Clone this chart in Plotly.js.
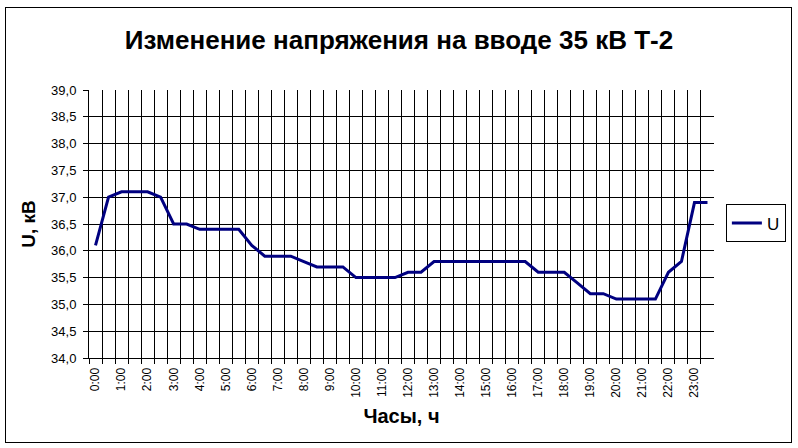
<!DOCTYPE html>
<html>
<head>
<meta charset="utf-8">
<script src="https://cdn.plot.ly/plotly-3.0.1.min.js"></script>
<style>
  html, body { margin: 0; padding: 0; background: #fff; }
  #wrap { position: relative; width: 798px; height: 448px; }
  #chart { width: 798px; height: 448px; }
  #frame { position: absolute; left: 5px; top: 7px; width: 785px; height: 434px; border: 1px solid #000; pointer-events: none; }
</style>
</head>
<body>
<div id="wrap">
  <div id="chart"></div>
  <div id="frame"></div>
</div>
<script>
// Time categories (half-hour steps)
var times = ["0:00","0:30","1:00","1:30","2:00","2:30","3:00","3:30","4:00","4:30","5:00","5:30",
             "6:00","6:30","7:00","7:30","8:00","8:30","9:00","9:30","10:00","10:30","11:00","11:30",
             "12:00","12:30","13:00","13:30","14:00","14:30","15:00","15:30","16:00","16:30","17:00","17:30",
             "18:00","18:30","19:00","19:30","20:00","20:30","21:00","21:30","22:00","22:30","23:00","23:30"];
// Voltage U, kV
var voltage = [36.1, 37.0, 37.1, 37.1, 37.1, 37.0, 36.5, 36.5, 36.4, 36.4, 36.4, 36.4,
               36.1, 35.9, 35.9, 35.9, 35.8, 35.7, 35.7, 35.7, 35.5, 35.5, 35.5, 35.5,
               35.6, 35.6, 35.8, 35.8, 35.8, 35.8, 35.8, 35.8, 35.8, 35.8, 35.6, 35.6,
               35.6, 35.4, 35.2, 35.2, 35.1, 35.1, 35.1, 35.1, 35.6, 35.8, 36.9, 36.9];
// Y axis ticks
var yTickVals = [34.0, 34.5, 35.0, 35.5, 36.0, 36.5, 37.0, 37.5, 38.0, 38.5, 39.0];
var yTickText = ["34,0","34,5","35,0","35,5","36,0","36,5","37,0","37,5","38,0","38,5","39,0"];
var yGridVals = [34.5, 35.0, 35.5, 36.0, 36.5, 37.0, 37.5, 38.0, 38.5];

var seriesName = "U";
var titleText = "Изменение напряжения на вводе 35 кВ Т-2";
var xTitle = "Часы, ч";
var yTitle = "U, кВ";

var xIdx = times.map(function (t, i) { return i; });
var xLabelIdx = xIdx.filter(function (i) { return times[i].slice(-3) === ":00"; });
var xLabelText = xLabelIdx.map(function (i) { return times[i]; });
var xBoundaries = xIdx.map(function (i) { return i - 0.5; });

var font = "'Liberation Sans', Arial, sans-serif";

var trace = {
  x: xIdx,
  y: voltage,
  type: "scatter",
  mode: "lines",
  name: seriesName,
  line: { color: "#000080", width: 3 },
  showlegend: true
};
// empty helper trace so the grid-only overlay axis is drawn (no marks)
var gridHelper = {
  x: [], y: [], type: "scatter", mode: "lines",
  yaxis: "y2", showlegend: false, hoverinfo: "skip"
};

var layout = {
  width: 798, height: 448,
  margin: { l: 89, r: 80, t: 90, b: 90 },
  paper_bgcolor: "#fff",
  plot_bgcolor: "#fff",
  font: { family: font, color: "#000", size: 12 },
  title: {
    text: titleText,
    font: { family: font, size: 26, weight: 700, color: "#000" },
    x: 0.5, xref: "container", xanchor: "center",
    y: 0.91, yref: "container", yanchor: "middle"
  },
  xaxis: {
    range: [-0.5, times.length - 0.5],
    tickmode: "array",
    tickvals: xLabelIdx,
    ticktext: xLabelText,
    tickangle: -90,
    ticks: "",
    showgrid: false,
    zeroline: false,
    showline: true, linecolor: "#000", linewidth: 1,
    tickfont: { family: font, size: 12, color: "#000" },
    ticklabelstandoff: 4,
    minor: {
      tickmode: "array",
      tickvals: xBoundaries,
      ticks: "outside", ticklen: 5, tickcolor: "#000", tickwidth: 1,
      showgrid: true, gridcolor: "#000", gridwidth: 1
    },
    title: { text: xTitle, font: { family: font, size: 20, weight: 700, color: "#000" }, standoff: 12 }
  },
  yaxis: {
    range: [34, 39],
    tickmode: "array",
    tickvals: yTickVals,
    ticktext: yTickText,
    ticks: "outside", ticklen: 5, tickcolor: "#000",
    ticklabelstandoff: 4,
    showgrid: false,
    zeroline: false,
    showline: true, linecolor: "#000", linewidth: 1,
    tickfont: { family: font, size: 13, color: "#000" },
    title: { text: yTitle, font: { family: font, size: 19, weight: 700, color: "#000" }, standoff: 10 }
  },
  yaxis2: {
    overlaying: "y",
    range: [34, 39],
    tickmode: "array",
    tickvals: yGridVals,
    showticklabels: false,
    ticks: "",
    showgrid: true, gridcolor: "#000", gridwidth: 1,
    zeroline: false, showline: false
  },
  legend: {
    x: 1.019, xanchor: "left",
    y: 0.502, yanchor: "middle",
    bordercolor: "#000", borderwidth: 1,
    bgcolor: "#fff",
    font: { family: font, size: 17, color: "#000" },
    itemwidth: 30
  },
  showlegend: true
};

Plotly.newPlot("chart", [gridHelper, trace], layout, { staticPlot: true, displayModeBar: false });
</script>
</body>
</html>
